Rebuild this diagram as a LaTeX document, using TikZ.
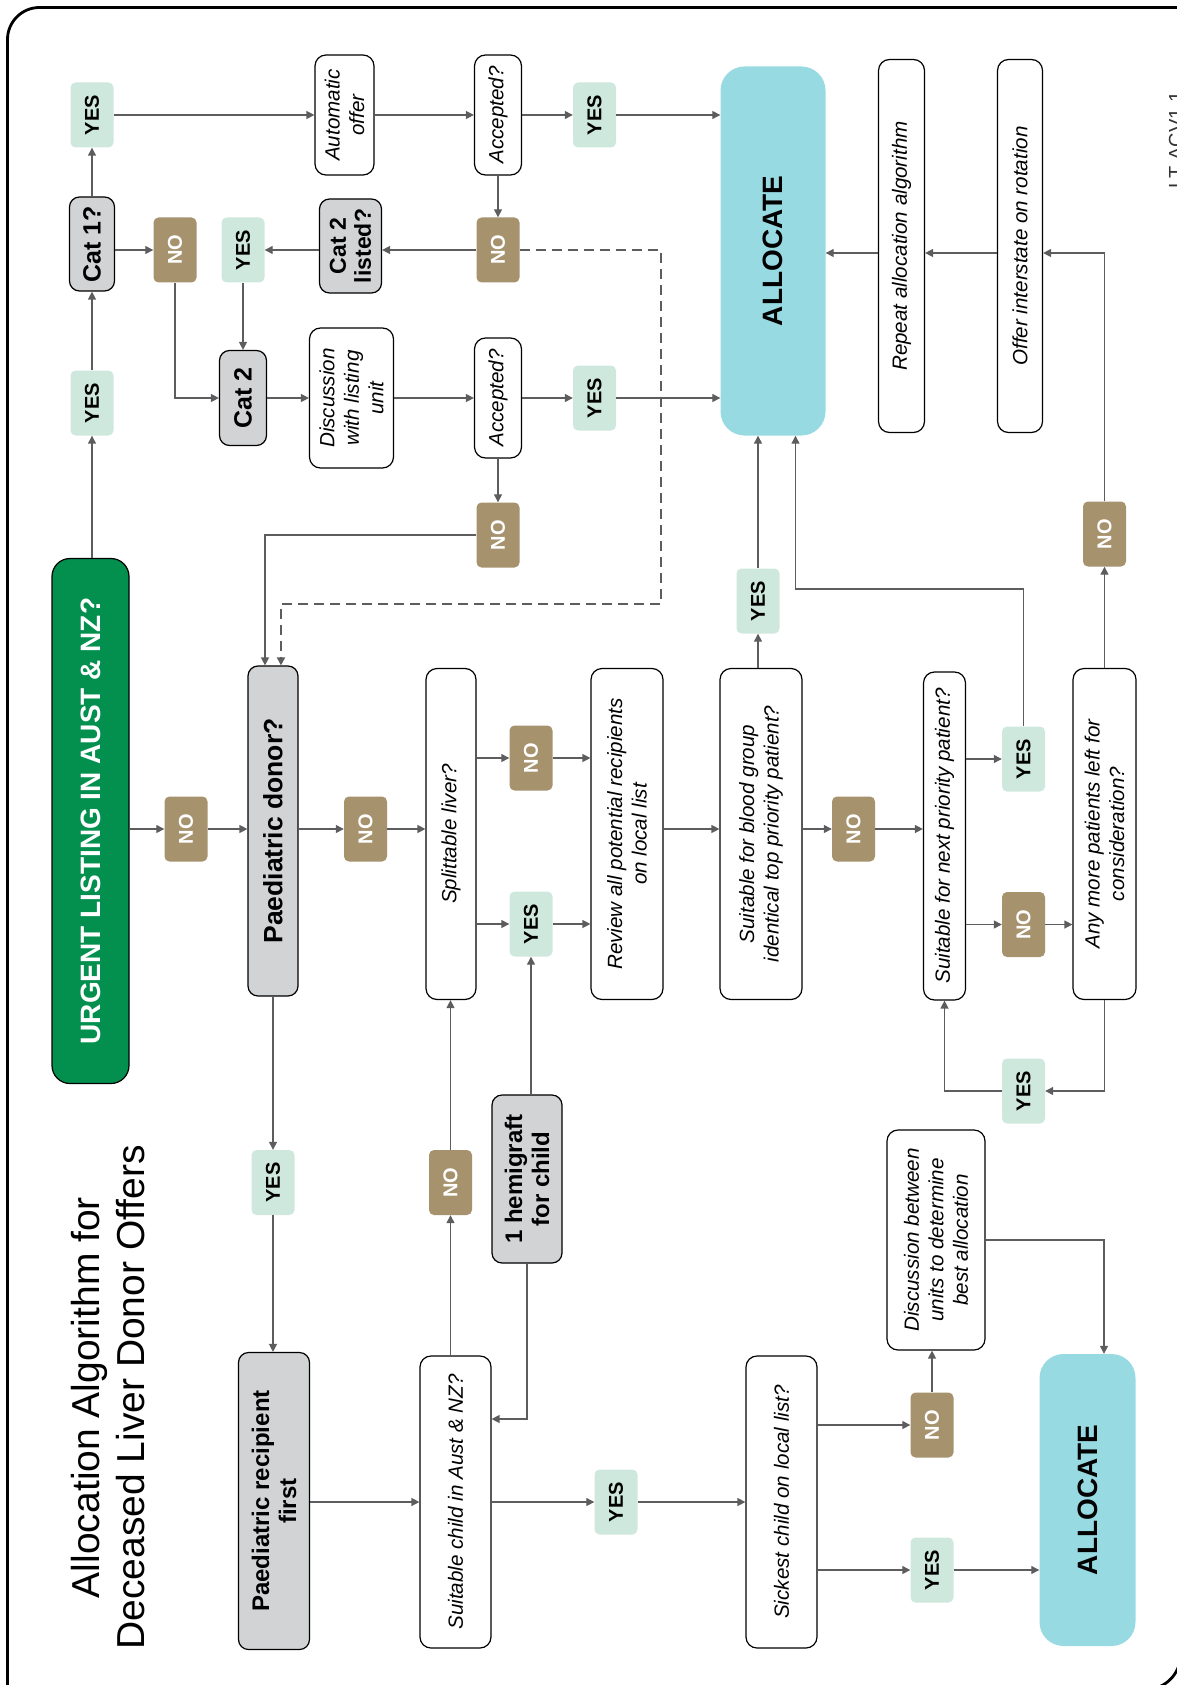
\documentclass[tikz,border=0pt]{standalone}
\usepackage{fontspec}
\setmainfont{Liberation Sans}
\usetikzlibrary{arrows.meta}

\definecolor{yesfill}{HTML}{CFE8DD}
\definecolor{nofill}{HTML}{A6926D}
\definecolor{allocfill}{HTML}{98DAE2}
\definecolor{catfill}{HTML}{D2D3D5}
\definecolor{urgentfill}{HTML}{03904F}
\definecolor{linegrey}{HTML}{5D5D5F}

\tikzset{
  flow/.style={rotate=90, align=center, inner sep=2pt},
  yesbox/.style={flow, fill=yesfill, rounded corners=5pt,
    minimum width=65pt, minimum height=43pt,
    font=\bfseries\fontsize{20}{24}\selectfont},
  nobox/.style={yesbox, fill=nofill, text=white},
  askbox/.style={flow, draw=black, fill=white, line width=1.2pt,
    rounded corners=11pt, font=\itshape\fontsize{20.6}{24.5}\selectfont},
  catbox/.style={flow, draw=black, fill=catfill, line width=1.2pt,
    rounded corners=10pt, font=\bfseries\fontsize{25}{27}\selectfont},
  allocbox/.style={flow, fill=allocfill, rounded corners=24pt,
    font=\bfseries\fontsize{28}{30}\selectfont},
  conn/.style={->, draw=linegrey, line width=1.3pt},
}

\begin{document}
\begin{tikzpicture}[x=1pt, y=-1pt, >={Triangle[length=8pt,width=8pt]}]
  \useasboundingbox (0,0) rectangle (1176,1685);
  % frame, running off the page on the right and at the bottom
  \draw[line width=2.8pt] (1200,7.5) [rounded corners=32pt] -- (7.5,7.5) -- (7.5,1700);
  \draw[line width=2.8pt] (1100,1689.6) [rounded corners=35pt] -- (1180.6,1689.6) -- (1180.6,1600);

  % title
  \node[rotate=90, align=center, font=\fontsize{39}{45}\selectfont] (title)
    at (108.5,1397.5) {Allocation Algorithm for\\Deceased Liver Donor Offers};
  \node[rotate=90, font=\fontsize{20}{24}\selectfont, text=black!80] (version)
    at (1176,140) {LT ACV1.1};

  % urgent listing branch
  \node[flow, draw=black, fill=urgentfill, text=white, rounded corners=18pt,
    line width=1.2pt, minimum width=525pt, minimum height=77pt,
    font=\bfseries\fontsize{28}{30}\selectfont]
    (urgent) at (90.5,821) {URGENT LISTING IN AUST \& NZ?};
  \node[yesbox] (yesA) at (92,115) {YES};
  \node[catbox, minimum width=94pt, minimum height=45pt] (cat1) at (92,244) {Cat 1?};
  \node[yesbox] (yesD) at (92,403) {YES};
  \node[nobox] (noA) at (175,250) {NO};
  \node[yesbox] (yesC) at (243,250) {YES};
  \node[catbox, minimum width=95pt, minimum height=47pt] (cat2) at (243,398) {Cat 2};
  \node[catbox, minimum width=94pt, minimum height=62pt,
    font=\bfseries\fontsize{23}{25}\selectfont] (cat2listed) at (350.5,246) {Cat 2\\listed?};
  \node[askbox, minimum width=120pt, minimum height=59pt] (autoOffer) at (344.5,115) {Automatic\\offer};
  \node[askbox, minimum width=140pt, minimum height=84pt] (discList) at (351.5,398) {Discussion\\with listing\\unit};
  \node[askbox, minimum width=120pt, minimum height=47pt] (accA) at (498,115) {Accepted?};
  \node[askbox, minimum width=120pt, minimum height=47pt] (accB) at (498,398) {Accepted?};
  \node[nobox] (noB) at (498,250) {NO};
  \node[nobox] (noC) at (498,535) {NO};
  \node[yesbox] (yesB) at (594.5,115) {YES};
  \node[yesbox] (yesE) at (594.5,398) {YES};
  \node[allocbox, minimum width=369pt, minimum height=105pt] (allocA) at (773,251) {ALLOCATE};
  \node[askbox, minimum width=373pt, minimum height=46pt] (repeatAlg) at (901.5,246) {Repeat allocation algorithm};
  \node[askbox, minimum width=373pt, minimum height=45pt] (offerInter) at (1020,246) {Offer interstate on rotation};

  % adult chain
  \node[nobox] (noD) at (186,829) {NO};
  \node[catbox, minimum width=330pt, minimum height=50pt,
    font=\bfseries\fontsize{26.5}{30}\selectfont] (paedDonor) at (273,831) {Paediatric donor?};
  \node[nobox] (noE) at (365.5,829) {NO};
  \node[askbox, minimum width=331pt, minimum height=50pt] (split) at (451,834) {Splittable liver?};
  \node[nobox] (noF) at (531,758) {NO};
  \node[yesbox] (yesF) at (531,924) {YES};
  \node[askbox, minimum width=331pt, minimum height=72pt] (review) at (627,834) {Review all potential recipients\\on local list};
  \node[askbox, minimum width=331pt, minimum height=82pt] (bloodGrp) at (761,834) {Suitable for blood group\\identical top priority patient?};
  \node[yesbox] (yesG) at (758,601) {YES};
  \node[nobox] (noG) at (853.5,829) {NO};
  \node[askbox, minimum width=328pt, minimum height=42pt] (nextPrio) at (944.5,836) {Suitable for next priority patient?};
  \node[yesbox] (yesH) at (1023.5,759) {YES};
  \node[nobox] (noH) at (1023.5,924.5) {NO};
  \node[askbox, minimum width=331pt, minimum height=63pt] (anyMore) at (1104.5,834) {Any more patients left for\\consideration?};
  \node[nobox] (noI) at (1104.5,534) {NO};
  \node[yesbox] (yesI) at (1023.5,1091) {YES};

  % paediatric branch
  \node[yesbox] (yesJ) at (273,1182.5) {YES};
  \node[catbox, minimum width=297pt, minimum height=71pt,
    font=\bfseries\fontsize{24}{27}\selectfont] (paedRecip) at (274,1501) {Paediatric recipient\\first};
  \node[nobox] (noJ) at (450.5,1182.5) {NO};
  \node[catbox, minimum width=168pt, minimum height=70pt,
    font=\bfseries\fontsize{24}{27}\selectfont] (hemi) at (527,1179) {1 hemigraft\\for child};
  \node[askbox, minimum width=292pt, minimum height=71pt] (suitChild) at (455.5,1502) {Suitable child in Aust \& NZ?};
  \node[yesbox] (yesK) at (616,1502) {YES};
  \node[askbox, minimum width=292pt, minimum height=71pt] (sickest) at (781.5,1502) {Sickest child on local list?};
  \node[nobox] (noK) at (932,1425) {NO};
  \node[askbox, minimum width=220pt, minimum height=98pt] (discUnits) at (936,1240) {Discussion between\\units to determine\\best allocation};
  \node[yesbox] (yesL) at (932,1570) {YES};
  \node[allocbox, minimum width=292pt, minimum height=96pt] (allocB) at (1087.5,1500) {ALLOCATE};

  % connectors, urgent listing
  \draw[conn] (yesA) -- (autoOffer);
  \draw[conn] (autoOffer) -- (accA);
  \draw[conn] (accA) -- (yesB);
  \draw[conn] (yesB) -- (yesB -| allocA.north);
  \draw[conn] (yesD |- urgent.east) -- (yesD);
  \draw[conn] (yesD) -- (cat1);
  \draw[conn] (cat1) -- (yesA);
  \draw[conn] (cat1.south |- noA) -- (noA);
  \draw[conn] (noA) |- (cat2);
  \draw[conn] (cat2listed.north |- yesC) -- (yesC);
  \draw[conn] (noB) -- (noB -| cat2listed.south);
  \draw[conn] (accA) -- (noB);
  \draw[conn] (yesC) -- (cat2);
  \draw[conn] (cat2) -- (discList);
  \draw[conn] (discList) -- (accB);
  \draw[conn] (accB) -- (yesE);
  \draw[conn] (yesE) -- (yesE -| allocA.north);
  \draw[conn] (accB) -- (noC);
  \draw[conn] (noC) -| ([xshift=-8pt]paedDonor.east);
  \draw[conn, dash pattern=on 10pt off 6pt, line width=1.8pt]
    (noB) -| (661,604) -| ([xshift=8pt]paedDonor.east);

  % connectors, adult chain
  \draw[conn] (urgent.south |- noD) -- (noD);
  \draw[conn] (noD) -- (noD -| paedDonor.north);
  \draw[conn] (paedDonor.south |- noE) -- (noE);
  \draw[conn] (noE) -- (noE -| split.north);
  \draw[conn] (split.south |- noF) -- (noF);
  \draw[conn] (noF) -- (noF -| review.north);
  \draw[conn] (split.south |- yesF) -- (yesF);
  \draw[conn] (yesF) -- (yesF -| review.north);
  \draw[conn] (review.south |- noG) -- (bloodGrp.north |- noG);
  \draw[conn] (bloodGrp.south |- noG) -- (noG);
  \draw[conn] (noG) -- (noG -| nextPrio.north);
  \draw[conn] (bloodGrp.east -| yesG) -- (yesG);
  \draw[conn] (yesG) -- (yesG |- allocA.west);
  \draw[conn] (nextPrio.south |- yesH) -- (yesH);
  \draw[conn] (yesH) |- (795.5,589) -- ([xshift=22.5pt]allocA.west);
  \draw[conn] (nextPrio.south |- noH) -- (noH);
  \draw[conn] (noH) -- (noH -| anyMore.north);
  \draw[conn] (anyMore) -- (noI);
  \draw[conn] (noI) |- ([yshift=-7pt]offerInter.south);
  \draw[conn] ([yshift=-7pt]offerInter.north) -- ([yshift=-7pt]repeatAlg.south);
  \draw[conn] ([yshift=-7pt]repeatAlg.north) -- ([yshift=-7pt]repeatAlg.north -| allocA.south);
  \draw[conn] (anyMore) |- (yesI);
  \draw[conn] (yesI) -| (nextPrio);

  % connectors, paediatric branch
  \draw[conn] (paedDonor) -- (yesJ);
  \draw[conn] (yesJ) -- (yesJ |- paedRecip.east);
  \draw[conn] (paedRecip.south |- suitChild) -- (suitChild);
  \draw[conn] (suitChild.east -| noJ) -- (noJ);
  \draw[conn] (noJ) -- (noJ |- split.west);
  \draw[conn] (hemi.east -| yesF) -- (yesF);
  \draw[conn] (hemi) |- ([yshift=83pt]suitChild.south);
  \draw[conn] (suitChild) -- (yesK);
  \draw[conn] (yesK) -- (sickest);
  \draw[conn] (sickest.south |- noK) -- (noK);
  \draw[conn] (noK) -- (noK |- discUnits.west);
  \draw[conn] (sickest.south |- yesL) -- (yesL);
  \draw[conn] (yesL) -- (yesL -| allocB.north);
  \draw[conn] (discUnits.south) -| ([xshift=16.5pt]allocB.east);
\end{tikzpicture}
\end{document}
